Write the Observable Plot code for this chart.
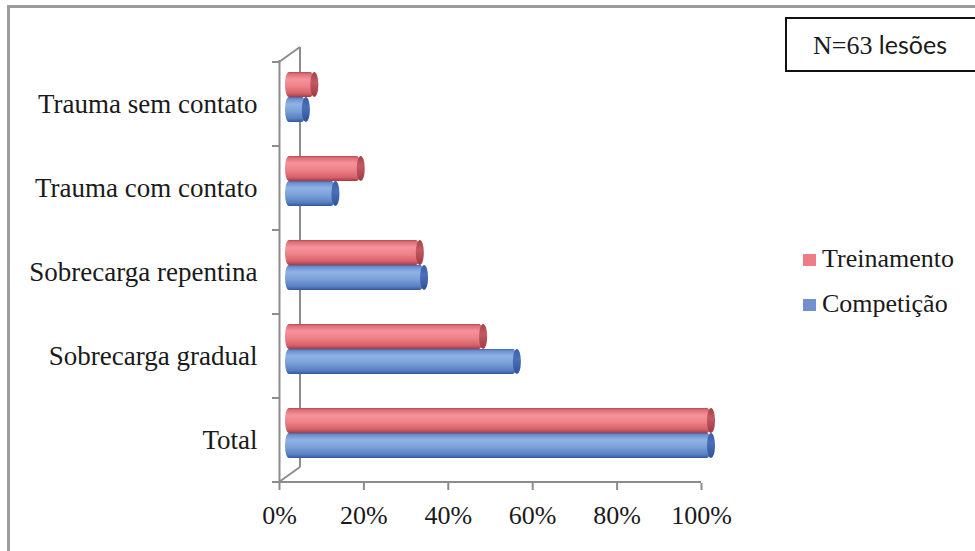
<!DOCTYPE html>
<html>
<head>
<meta charset="utf-8">
<script src="https://cdn.jsdelivr.net/npm/d3@7"></script>
<script src="https://cdn.jsdelivr.net/npm/@observablehq/plot@0.6"></script>
<style>
  html, body { margin: 0; padding: 0; background: #fff; }
  #wrap { position: relative; width: 975px; height: 551px; overflow: hidden; background: #fff; }
  #frame { position: absolute; left: 7px; top: 5px; width: 1000px; height: 600px;
           border-top: 3px solid #9d9d9d; border-left: 3px solid #9d9d9d; box-sizing: border-box; }
  #chart { position: absolute; left: 0; top: 0; }
  #nbox { position: absolute; left: 785px; top: 17px; width: 220px; height: 55px; box-sizing: border-box;
          border: 2px solid #111; background: #fff; }
  #nbox span.t { position: absolute; left: 26px; top: 10px; white-space: nowrap; color: #1a1a1a; }
  .serif { font-family: "Liberation Serif", "Times New Roman", serif; font-size: 26px; }
  .sans { font-family: Lato, "Open Sans", sans-serif; font-size: 25px; }
  .leg { position: absolute; left: 803px; white-space: nowrap; font-family: "Liberation Serif", "Times New Roman", serif;
         font-size: 26px; color: #1a1a1a; line-height: 26px; }
  .leg i { display: inline-block; width: 13px; height: 12px; margin-right: 6px; vertical-align: 1px; }
</style>
</head>
<body>
<div id="wrap">
  <div id="frame"></div>
  <div id="chart"></div>
  <div id="nbox"><span class="t"><span class="serif">N=63</span><span class="sans"> lesões</span></span></div>
  <div class="leg" id="leg1" style="top:246px"><i style="background:#ef7d85"></i>Treinamento</div>
  <div class="leg" id="leg2" style="top:291px"><i style="background:#7090cf"></i>Competição</div>
</div>
<script>
// ---- data ----
const categories = ["Trauma sem contato", "Trauma com contato", "Sobrecarga repentina", "Sobrecarga gradual", "Total"];
const series = ["Treinamento", "Competição"];
const treinamento = [0.06, 0.17, 0.31, 0.46, 1.00];
const competicao  = [0.04, 0.11, 0.32, 0.54, 1.00];
const xTicks = [0, 0.2, 0.4, 0.6, 0.8, 1.0];

const rows = categories.flatMap((c, i) => [
  {category: c, series: series[0], value: treinamento[i]},
  {category: c, series: series[1], value: competicao[i]}
]);
const red = rows.filter(d => d.series === series[0]);
const blue = rows.filter(d => d.series === series[1]);

const shiftX = 10;
const redInset = {insetTop: 10, insetBottom: 49};
const blueInset = {insetTop: 35, insetBottom: 24};

const chart = Plot.plot({
  width: 975,
  height: 551,
  marginLeft: 279,
  marginRight: 274,
  marginTop: 60,
  marginBottom: 68,
  style: {fontFamily: "'Liberation Serif', 'Times New Roman', serif", fontSize: "26px", color: "#1a1a1a", background: "transparent", overflow: "visible"},
  x: {domain: [0, 1], ticks: xTicks, tickFormat: d3.format(".0%"), tickSize: 7, tickPadding: 15, label: null},
  y: {domain: categories, padding: 0, tickSize: 0, tickPadding: 22, label: null},
  marks: [
    Plot.ruleX([0], {stroke: "#8c8c8c", strokeWidth: 2}),
    // Treinamento cylinders
    Plot.barX(red, {y: "category", x1: 0, x2: "value", fill: "url(#gRed)", dx: shiftX, insetLeft: -4, rx: 4, ry: 12, ...redInset}),
    Plot.barX(red, {y: "category", x1: "value", x2: "value", fill: "url(#gRedCap)", dx: shiftX, insetLeft: -4, insetRight: -4, rx: 4, ry: 12, ...redInset}),
    // Competição cylinders
    Plot.barX(blue, {y: "category", x1: 0, x2: "value", fill: "url(#gBlue)", dx: shiftX, insetLeft: -4, rx: 4, ry: 12, ...blueInset}),
    Plot.barX(blue, {y: "category", x1: "value", x2: "value", fill: "url(#gBlueCap)", dx: shiftX, insetLeft: -4, insetRight: -4, rx: 4, ry: 12, ...blueInset})
  ]
});
document.getElementById("chart").appendChild(chart);

const svg = d3.select(chart);
const defs = svg.insert("defs", ":first-child");
function grad(id, stops) {
  const g = defs.append("linearGradient").attr("id", id).attr("x1", 0).attr("y1", 0).attr("x2", 0).attr("y2", 1);
  stops.forEach(([o, c]) => g.append("stop").attr("offset", o).attr("stop-color", c));
}
grad("gRed", [[0, "#b64650"], [0.07, "#dc6c74"], [0.28, "#f5939a"], [0.55, "#ee838a"], [0.85, "#d7616a"], [1, "#a33b45"]]);
grad("gRedCap", [[0, "#a8434b"], [0.4, "#c25a62"], [1, "#9c3a43"]]);
grad("gBlue", [[0, "#3e62aa"], [0.07, "#6a8fcf"], [0.28, "#8fb3e3"], [0.55, "#7ca2d9"], [0.85, "#5a80c3"], [1, "#33579f"]]);
grad("gBlueCap", [[0, "#3a5fa8"], [0.4, "#4a70b8"], [1, "#2f529a"]]);

// axis tick colour and label sizes
svg.selectAll('g[aria-label="x-axis tick"] path, g[aria-label="x-axis"] path').attr("stroke", "#8c8c8c").attr("stroke-width", 2);
svg.selectAll('g[aria-label="x-axis tick label"] text, g[aria-label="y-axis tick label"] text').attr("fill", "#1a1a1a");
svg.selectAll('g[aria-label="y-axis tick label"]').attr("font-size", "27px");

// 3-D wall decoration from the scales
const xs = chart.scale("x"), ys = chart.scale("y");
const x0 = xs.apply(0), x1 = xs.apply(1);
const bw = ys.bandwidth;
const yTop = ys.apply(categories[0]);
const yBot = yTop + bw * categories.length;
const depthX = 21, depthY = -15;
const deco = svg.append("g").attr("stroke", "#8c8c8c").attr("stroke-width", 2).attr("fill", "none");
const seg = (ax, ay, bx, by) => deco.append("line").attr("x1", ax).attr("y1", ay).attr("x2", bx).attr("y2", by);
seg(x0 - 7, yBot, x1, yBot);
for (let b = 0; b <= categories.length; b++) seg(x0 - 7, yTop + b * bw, x0, yTop + b * bw);
seg(x0 + depthX, yTop + depthY, x0 + depthX, yBot + depthY);
seg(x0, yTop, x0 + depthX, yTop + depthY);
seg(x0, yBot, x0 + depthX, yBot + depthY);
// put decoration behind bars
chart.insertBefore(deco.node(), chart.querySelector('g[aria-label="bar"]'));
</script>
</body>
</html>
